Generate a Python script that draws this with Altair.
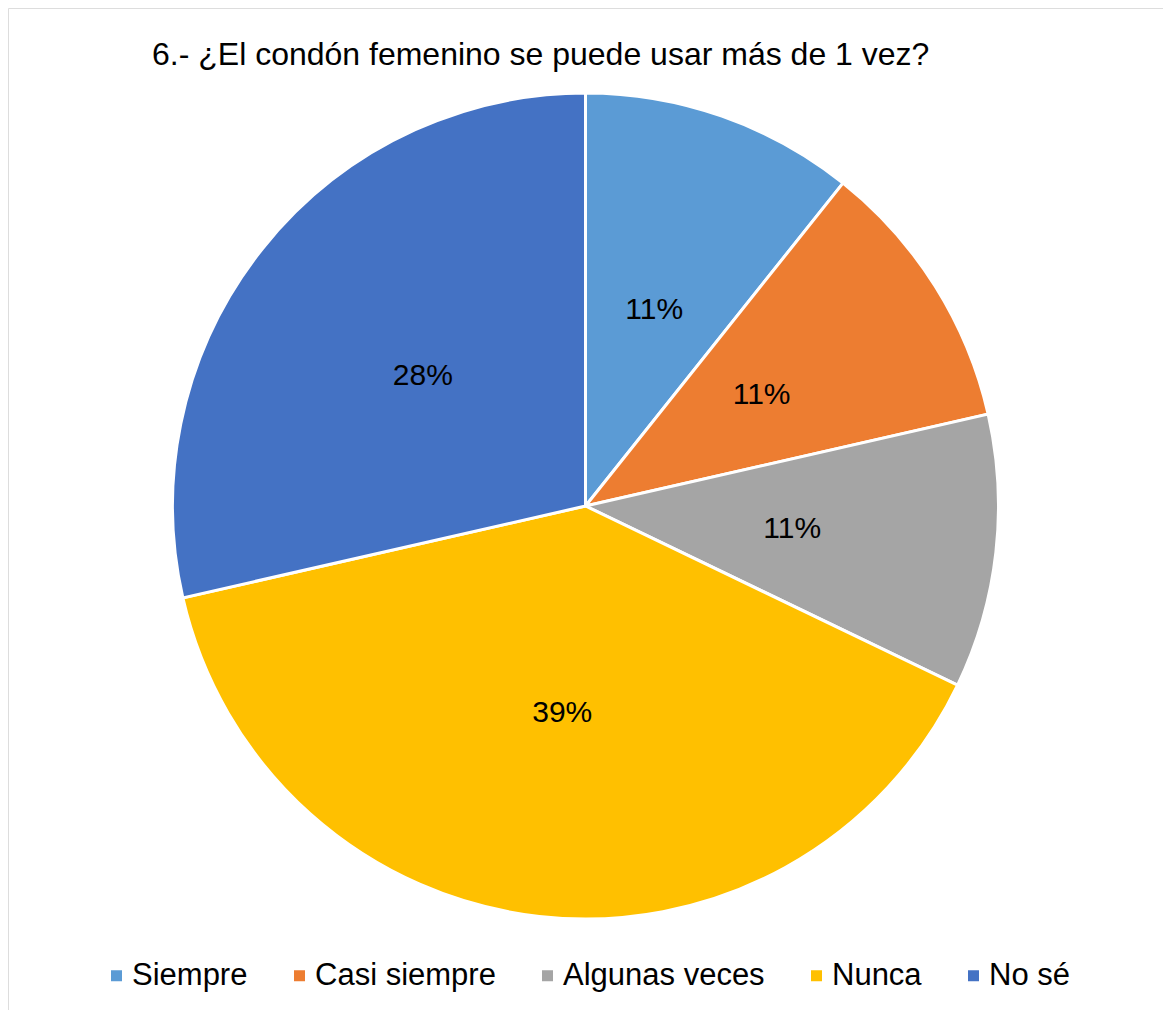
import altair as alt
import pandas as pd

categories = ["Siempre", "Casi siempre", "Algunas veces", "Nunca", "No sé"]
counts = [3, 3, 3, 11, 8]
labels = ["11%", "11%", "11%", "39%", "28%"]
colors = ["#5B9BD5", "#ED7D31", "#A5A5A5", "#FFC000", "#4472C4"]
title_text = "6.- ¿El condón femenino se puede usar más de 1 vez?"

df = pd.DataFrame({"cat": categories, "n": counts, "lab": labels, "ord": list(range(len(categories)))})

FONT = "Liberation Sans"

base = alt.Chart(df).encode(
    theta=alt.Theta("n:Q", stack=True),
    order=alt.Order("ord:Q"),
    x=alt.value(577.5),
    y=alt.value(498),
)

pie = base.mark_arc(outerRadius=413, stroke="white", strokeWidth=3).encode(
    color=alt.Color(
        "cat:N",
        scale=alt.Scale(domain=categories, range=colors),
        legend=alt.Legend(
            title=None,
            orient="none",
            legendX=93,
            legendY=952,
            direction="horizontal",
            columns=5,
            symbolType="square",
            symbolSize=121,
            symbolStrokeWidth=0,
            labelFontSize=31,
            labelFont=FONT,
            labelColor="#000000",
            labelOffset=0,
            columnPadding=36,
            labelLimit=1000,
        ),
    )
)

text = base.mark_text(radius=208, fontSize=30, font=FONT, color="#000000").encode(text="lab:N")

chart = (
    alt.layer(pie, text)
    .properties(
        width=1155,
        height=1002,
        autosize=alt.AutoSizeParams(type="none"),
        padding=0,
        title=alt.TitleParams(
            text=title_text,
            anchor="start",
            frame="group",
            orient="top",
            offset=0,
            dx=144,
            dy=89,
            baseline="alphabetic",
            fontSize=32,
            font=FONT,
            fontWeight="normal",
            color="#000000",
        ),
    )
    .configure_view(stroke="#d9d9d9", strokeWidth=2)
    .configure(background="white")
)

chart.save("out.html", embed_options={"renderer": "svg", "actions": False})
